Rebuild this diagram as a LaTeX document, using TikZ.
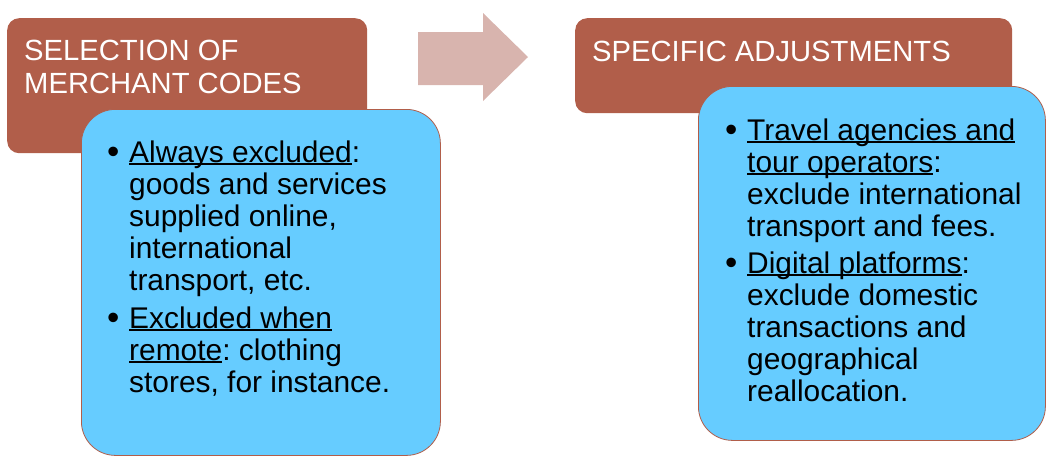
\documentclass[tikz,border=0pt]{standalone}
\usepackage{fontspec}
\setmainfont{Liberation Sans}
\frenchspacing
\newcommand\myul[1]{\leavevmode\setbox0\hbox{#1}\rlap{\rule[-2.8pt]{\wd0}{1.5pt}}\box0}
\definecolor{brownfill}{RGB}{177,94,74}
\definecolor{bluefill}{RGB}{102,204,255}
\definecolor{arrowfill}{RGB}{216,180,174}
\tikzset{
  brownbox/.style={fill=brownfill, draw=none, rounded corners=12pt, inner sep=0pt, anchor=north west},
  bluebox/.style={fill=bluefill, draw=brownfill, line width=0.8pt, rounded corners=34pt, inner sep=0pt, anchor=north west},
  title/.style={text=white, font={\fontsize{29.2}{33}\selectfont}, align=left, inner sep=0pt, anchor=base west},
  body/.style={text=black, font={\fontsize{29.9}{32}\selectfont}, align=left, inner sep=0pt, anchor=base west},
  bul/.style={text=black, font={\fontsize{35}{32}\selectfont}, inner sep=0pt, anchor=base west},
}
\begin{document}
\begin{tikzpicture}[x=1pt,y=1pt]
\useasboundingbox (0,0) rectangle (1046,-456);
% left group (text nodes anchored at the baseline of their last line)
\node[brownbox, minimum width=360pt, minimum height=135pt] (b1) at (7,-18) {};
\node[title] (t1) at (24,-93) {SELECTION OF\\MERCHANT CODES};
\node[bluebox, minimum width=359pt, minimum height=346pt] (c1) at (81,-109) {};
\node[bul] (d1) at (107,-163) {•};
\node[body] (x1) at (129,-290) {\myul{Always excluded}:\\goods and services\\supplied online,\\international\\transport, etc.};
\node[bul] (d2) at (107,-329) {•};
\node[body] (x2) at (129,-392) {\myul{Excluded when}\\\myul{remote}: clothing\\stores, for instance.};
% arrow
\fill[arrowfill] (418,-32) coordinate (a0) -- (483,-32) -- (483,-13) -- (528,-57) -- (483,-101) -- (483,-85) -- (418,-85) -- cycle;
% right group
\node[brownbox, minimum width=437pt, minimum height=95pt] (b2) at (575,-18) {};
\node[title] (t2) at (592,-61) {SPECIFIC ADJUSTMENTS};
\node[bluebox, minimum width=347pt, minimum height=354pt] (c2) at (698,-86) {};
\node[bul] (d3) at (725,-141) {•};
\node[body] (x3) at (747,-236) {\myul{Travel agencies and}\\\myul{tour operators}:\\exclude international\\transport and fees.};
\node[bul] (d4) at (725,-274) {•};
\node[body] (x4) at (747,-401) {\myul{Digital platforms}:\\exclude domestic\\transactions and\\geographical\\reallocation.};
\end{tikzpicture}
\end{document}
